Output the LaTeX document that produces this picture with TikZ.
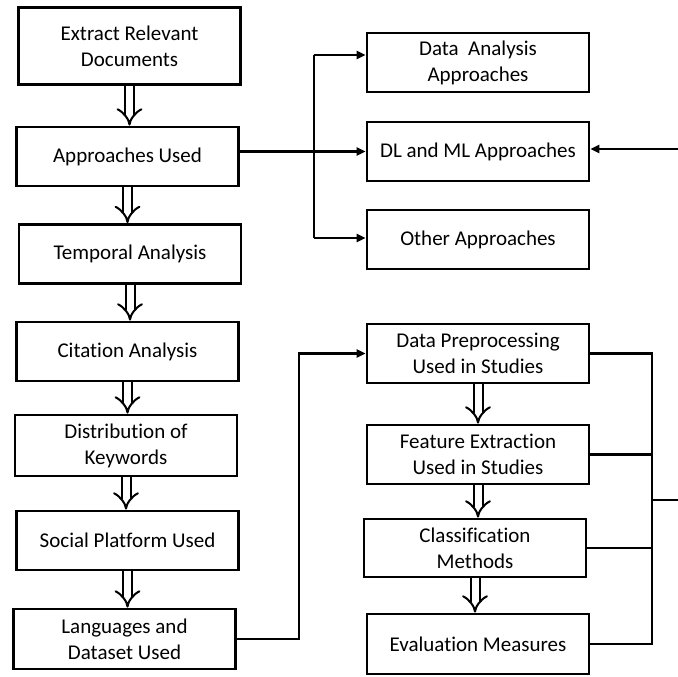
\documentclass[tikz,border=0pt]{standalone}
\usepackage{fontspec}
\setmainfont{Carlito}[Ligatures=NoCommon]
\usetikzlibrary{arrows.meta}

\tikzset{
  box/.style={draw, line width=2.8pt, minimum width=222pt, minimum height=#1, align=center,
    font=\fontsize{21}{26}\selectfont, inner sep=2pt},
  box/.default=59pt,
  flow/.style={double, double distance=7pt, line width=2pt, -{Implies}},
  conn/.style={line width=2.8pt},
  tip/.style={conn, -{Triangle[length=9pt,width=8pt]}}
}

\begin{document}
\begin{tikzpicture}[x=1pt, y=-1pt]
        \useasboundingbox (0,0) rectangle (678,677);

        % left column
        \node[box=77pt] (ext) at (129.5, 46) {Extract Relevant\\Documents};
        \node[box] (app) at (127.5, 156.5) {Approaches Used};
        \node[box] (temp) at (130, 254) {Temporal Analysis};
        \node[box] (cit) at (127.5, 351.5) {Citation Analysis};
        \node[box=61pt] (dist) at (126, 445.5) {Distribution of\\Keywords};
        \node[box] (soc) at (127.5, 540.5) {Social Platform Used};
        \node[box=60pt] (lang) at (124.5, 639) {Languages and\\Dataset Used};

        % approaches
        \node[box] (daa) at (478, 62.5) {Data~~Analysis\\Approaches};
        \node[box] (dlml) at (478, 151.5) {DL and ML Approaches};
        \node[box] (oth) at (478, 239.5) {Other Approaches};

        % studies
        \node[box] (pre) at (478, 353.5) {Data Preprocessing\\Used in Studies};
        \node[box] (fea) at (478, 454.5) {Feature Extraction\\Used in Studies};
        \node[box=58pt] (cls) at (475, 548) {Classification\\Methods};
        \node[box=60pt] (eva) at (478, 644) {Evaluation Measures};

        \coordinate (tl) at (314, 55);
        \coordinate (bl) at (314, 238);
        \coordinate (rin) at (678, 149);
        \coordinate (jog) at (299, 500);
        \coordinate (rb) at (652, 500);
        \coordinate (rout) at (678, 500);

        % main flow
        \draw[flow] (ext.south) -- (ext.south |- app.north);
        \draw[flow] (app.south) -- (app.south |- temp.north);
        \draw[flow] (temp.south) -- (temp.south |- cit.north);
        \draw[flow] (cit.south) -- (cit.south |- dist.north);
        \draw[flow] (dist.south) -- (dist.south |- soc.north);
        \draw[flow] (soc.south) -- (soc.south |- lang.north);
        \draw[flow] (pre.south) -- (pre.south |- fea.north);
        \draw[flow] (fea.south) -- (fea.south |- cls.north);
        \draw[flow] (cls.south) -- (cls.south |- eva.north);

        % branches
        \draw[tip] (app.east |- dlml.west) -- (dlml.west);
        \draw[conn] (tl) -- (bl);
        \draw[tip] (tl) -- (tl -| daa.west);
        \draw[tip] (bl) -- (bl -| oth.west);
        \draw[tip] (rin) -- (rin -| dlml.east);
        \draw[tip] (lang.east) -| (jog) |- (pre.west);

        \draw[conn] (pre.east) -| (rb);
        \draw[conn] (fea.east) -| (rb);
        \draw[conn] (cls.east) -| (rb);
        \draw[conn] (eva.east) -| (rb);
        \draw[conn] (rb) -- (rout);
\end{tikzpicture}
\end{document}
